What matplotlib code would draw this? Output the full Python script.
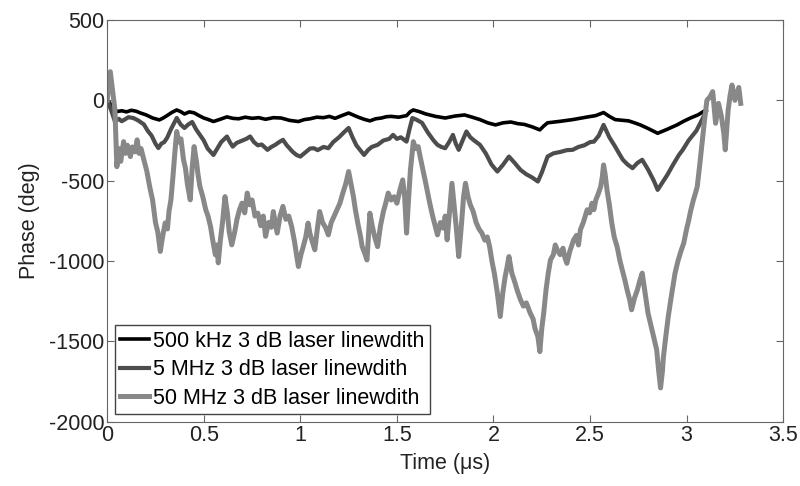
import matplotlib
matplotlib.use("Agg")
import matplotlib.pyplot as plt
from matplotlib.ticker import FuncFormatter

plt.rcParams['font.family'] = ['Liberation Sans', 'DejaVu Sans']
plt.rcParams['axes.unicode_minus'] = False

# 500 kHz linewidth (time in us, phase in deg)
t_500k = [0, 0.03, 0.05, 0.075, 0.10, 0.125, 0.15, 0.175, 0.20, 0.235, 0.27, 0.29, 0.31,
          0.335, 0.36, 0.38, 0.40, 0.425, 0.45, 0.475, 0.50, 0.525, 0.55, 0.585, 0.62,
          0.65, 0.68, 0.715, 0.75, 0.785, 0.82, 0.86, 0.90, 0.945, 0.99, 1.02, 1.05,
          1.085, 1.12, 1.15, 1.18, 1.215, 1.25, 1.275, 1.30, 1.33, 1.36, 1.39, 1.42,
          1.445, 1.47, 1.51, 1.55, 1.57, 1.585, 1.615, 1.65, 1.70, 1.75, 1.80, 1.85,
          1.89, 1.93, 1.97, 2.01, 2.05, 2.09, 2.125, 2.16, 2.20, 2.24, 2.26, 2.28, 2.35,
          2.41, 2.48, 2.53, 2.57, 2.60, 2.63, 2.70, 2.73, 2.76, 2.80, 2.85, 2.90, 2.95,
          2.985, 3.02, 3.06, 3.10]
ph_500k = [0, -40, -70, -65, -72, -62, -68, -80, -90, -110, -122, -110, -95,
           -75, -60, -70, -85, -72, -78, -95, -110, -120, -132, -118, -103,
           -112, -115, -105, -112, -108, -118, -108, -110, -125, -132, -120, -115,
           -105, -108, -100, -112, -95, -79, -92, -105, -118, -128, -115, -110,
           -102, -100, -105, -95, -70, -60, -70, -85, -100, -110, -98, -91,
           -105, -120, -140, -153, -140, -135, -145, -150, -165, -184, -160, -140, -130,
           -120, -105, -95, -76, -100, -120, -128, -140, -153, -175, -205, -180, -153,
           -130, -110, -90, -60]

# 5 MHz linewidth
t_5m = [0, 0.02, 0.04, 0.06, 0.075, 0.09, 0.11, 0.135, 0.16, 0.19, 0.21, 0.23, 0.25,
        0.265, 0.28, 0.295, 0.31, 0.33, 0.36, 0.38, 0.40, 0.42, 0.44, 0.46, 0.48, 0.50,
        0.52, 0.535, 0.55, 0.57, 0.59, 0.62, 0.635, 0.65, 0.67, 0.70, 0.72, 0.74, 0.76,
        0.78, 0.80, 0.83, 0.85, 0.87, 0.89, 0.91, 0.93, 0.96, 0.98, 1.00, 1.03, 1.05,
        1.07, 1.09, 1.12, 1.145, 1.17, 1.20, 1.225, 1.25, 1.27, 1.29, 1.31, 1.33, 1.35,
        1.37, 1.40, 1.43, 1.46, 1.48, 1.50, 1.52, 1.55, 1.565, 1.58, 1.60, 1.63, 1.66,
        1.69, 1.71, 1.73, 1.75, 1.77, 1.79, 1.805, 1.82, 1.84, 1.86, 1.88, 1.90, 1.93,
        1.96, 1.99, 2.02, 2.05, 2.08, 2.11, 2.14, 2.17, 2.20, 2.23, 2.25, 2.28, 2.31,
        2.35, 2.38, 2.41, 2.44, 2.47, 2.50, 2.52, 2.545, 2.57, 2.60, 2.63, 2.65, 2.67,
        2.695, 2.72, 2.745, 2.77, 2.80, 2.83, 2.85, 2.87, 2.90, 2.93, 2.96, 2.98, 3.01,
        3.05, 3.08, 3.10]
ph_5m = [0, -60, -132, -115, -130, -120, -105, -110, -125, -150, -190, -220, -270,
         -297, -270, -260, -234, -180, -110, -150, -172, -150, -135, -180, -215, -250,
         -300, -320, -340, -300, -260, -225, -260, -288, -265, -250, -240, -225, -260,
         -280, -275, -308, -290, -277, -260, -246, -280, -320, -340, -350, -320, -300,
         -298, -310, -290, -298, -260, -230, -200, -172, -230, -280, -310, -340, -310,
         -290, -277, -250, -240, -215, -240, -230, -257, -180, -110, -120, -140, -200,
         -250, -277, -290, -298, -260, -215, -270, -308, -250, -194, -230, -250, -277,
         -330, -400, -443, -400, -350, -390, -433, -460, -480, -505, -450, -350, -330,
         -320, -310, -308, -290, -280, -260, -257, -220, -153, -230, -288, -330, -370,
         -400, -422, -390, -370, -430, -500, -557, -520, -464, -400, -340, -308, -250,
         -190, -120, -70]

# 50 MHz linewidth
t_50m = [0.000, 0.008, 0.016, 0.024, 0.032, 0.040, 0.050, 0.060, 0.070, 0.085, 0.095,
         0.105, 0.120, 0.130, 0.145, 0.155, 0.165, 0.175, 0.190, 0.205, 0.220, 0.235,
         0.250, 0.262, 0.275, 0.285, 0.300, 0.312, 0.320, 0.330, 0.340, 0.350, 0.360,
         0.370, 0.382, 0.395, 0.405, 0.415, 0.430, 0.440, 0.450, 0.462, 0.470, 0.480,
         0.495, 0.510, 0.522, 0.535, 0.545, 0.560, 0.568, 0.575, 0.585, 0.597, 0.610,
         0.622, 0.632, 0.645, 0.660, 0.672, 0.685, 0.698, 0.712, 0.725, 0.738, 0.750,
         0.765, 0.780, 0.795, 0.808, 0.820, 0.835, 0.850, 0.860, 0.870, 0.880, 0.895,
         0.910, 0.925, 0.940, 0.955, 0.970, 0.980, 0.990, 1.003, 1.015, 1.028, 1.040,
         1.050, 1.062, 1.075, 1.088, 1.100, 1.115, 1.130, 1.145, 1.160, 1.175, 1.190,
         1.205, 1.220, 1.235, 1.250, 1.262, 1.275, 1.285, 1.300, 1.312, 1.320, 1.333,
         1.345, 1.360, 1.372, 1.385, 1.400, 1.415, 1.430, 1.442, 1.455, 1.470, 1.485,
         1.500, 1.515, 1.530, 1.540, 1.550, 1.560, 1.570, 1.585, 1.597, 1.610, 1.622,
         1.635, 1.650, 1.660, 1.670, 1.685, 1.698, 1.710, 1.725, 1.740, 1.750, 1.760,
         1.772, 1.785, 1.795, 1.808, 1.820, 1.835, 1.845, 1.855, 1.868, 1.880, 1.895,
         1.910, 1.925, 1.940, 1.955, 1.968, 1.980, 1.992, 2.005, 2.020, 2.035, 2.048,
         2.060, 2.070, 2.080, 2.095, 2.110, 2.125, 2.140, 2.155, 2.170, 2.190, 2.205,
         2.215, 2.230, 2.240, 2.250, 2.260, 2.272, 2.283, 2.295, 2.310, 2.320, 2.330,
         2.345, 2.360, 2.370, 2.380, 2.395, 2.415, 2.430, 2.440, 2.450, 2.465, 2.475,
         2.485, 2.498, 2.510, 2.520, 2.530, 2.543, 2.555, 2.563, 2.570, 2.578, 2.588,
         2.600, 2.612, 2.625, 2.640, 2.655, 2.668, 2.680, 2.692, 2.705, 2.715, 2.730,
         2.745, 2.758, 2.770, 2.785, 2.800, 2.815, 2.830, 2.845, 2.855, 2.865, 2.875,
         2.880, 2.892, 2.905, 2.918, 2.930, 2.940, 2.955, 2.970, 2.985, 3.000, 3.010,
         3.020, 3.035, 3.045, 3.055, 3.068, 3.080, 3.093, 3.105, 3.120, 3.135, 3.150,
         3.165, 3.180, 3.192, 3.200, 3.215, 3.225, 3.235, 3.250, 3.260, 3.270, 3.280]
ph_50m = [0, 90, 178, 100, 20, -60, -413, -300, -380, -257, -330,
          -280, -350, -290, -320, -246, -330, -300, -370, -440, -537, -620,
          -760, -820, -940, -860, -763, -800, -690, -619, -480, -330, -194,
          -260, -240, -370, -420, -520, -619, -420, -288, -380, -460, -537,
          -600, -680, -720, -785, -860, -961, -900, -1011, -880, -760, -599,
          -700, -820, -899, -820, -740, -680, -640, -700, -577, -650, -620,
          -720, -702, -780, -720, -846, -760, -790, -692, -760, -826, -720,
          -660, -740, -720, -785, -880, -960, -1034, -960, -910, -850, -764,
          -830, -880, -930, -800, -692, -760, -790, -837, -760, -720, -681,
          -640, -577, -520, -443, -520, -600, -681, -780, -850, -910, -950,
          -993, -702, -780, -850, -910, -780, -692, -640, -577, -620, -600,
          -640, -560, -495, -600, -826, -620, -433, -257, -300, -288, -360,
          -433, -520, -580, -640, -720, -780, -837, -760, -795, -720, -868,
          -700, -516, -640, -800, -972, -760, -600, -516, -600, -650, -692,
          -760, -800, -826, -870, -850, -910, -1000, -1080, -1198, -1345, -1200,
          -1100, -1040, -972, -1075, -1130, -1190, -1241, -1280, -1260, -1323, -1360,
          -1420, -1470, -1563, -1420, -1323, -1180, -1080, -993, -960, -900, -930,
          -960, -920, -980, -1014, -940, -868, -840, -900, -805, -760, -720,
          -681, -700, -640, -680, -619, -580, -537, -480, -402, -460, -560,
          -650, -760, -850, -910, -1000, -1060, -1117, -1180, -1240, -1303, -1230,
          -1179, -1120, -1075, -1200, -1323, -1400, -1480, -1552, -1680, -1789, -1680,
          -1594, -1470, -1345, -1240, -1150, -1075, -1000, -940, -888, -800, -750,
          -692, -620, -580, -537, -400, -266, -120, 0, 20, 54, -143,
          -19, -100, -200, -308, -60, 30, 95, 0, 40, 80, -19]

labels = ['500 kHz 3 dB laser linewdith',
          '5 MHz 3 dB laser linewdith',
          '50 MHz 3 dB laser linewdith']

fig = plt.figure(figsize=(8, 4.86), dpi=100)
ax = fig.add_axes([0.134, 0.132, 0.845, 0.827])

ax.plot(t_500k, ph_500k, color='#000000', lw=2.6, label=labels[0])
ax.plot(t_5m, ph_5m, color='#4d4d4d', lw=3.0, label=labels[1])
ax.plot(t_50m, ph_50m, color='#888888', lw=3.6, label=labels[2])

ax.set_xlim(0, 3.5)
ax.set_ylim(-2000, 500)
ax.set_xticks([0, 0.5, 1, 1.5, 2, 2.5, 3, 3.5])
ax.set_yticks([-2000, -1500, -1000, -500, 0, 500])
ax.xaxis.set_major_formatter(FuncFormatter(lambda v, p: '%g' % v))
ax.tick_params(direction='in', top=True, right=True, length=5, color='#666666',
               labelsize=15.5, labelcolor='#222222', pad=2)
for s in ax.spines.values():
    s.set_color('#666666')

ax.set_xlabel('Time (\u03bcs)', fontsize=15.5, color='#222222', labelpad=5)
ax.set_ylabel('Phase (deg)', fontsize=15.5, color='#222222', labelpad=6)

leg = ax.legend(loc='lower left', fontsize=15.5, handlelength=1.35, handletextpad=0.2,
                borderaxespad=0.35, fancybox=False, framealpha=1, labelspacing=0.35,
                borderpad=0.25)
leg.get_frame().set_edgecolor('#444444')
leg.get_frame().set_linewidth(1.0)

plt.savefig('out.png', dpi=100)
